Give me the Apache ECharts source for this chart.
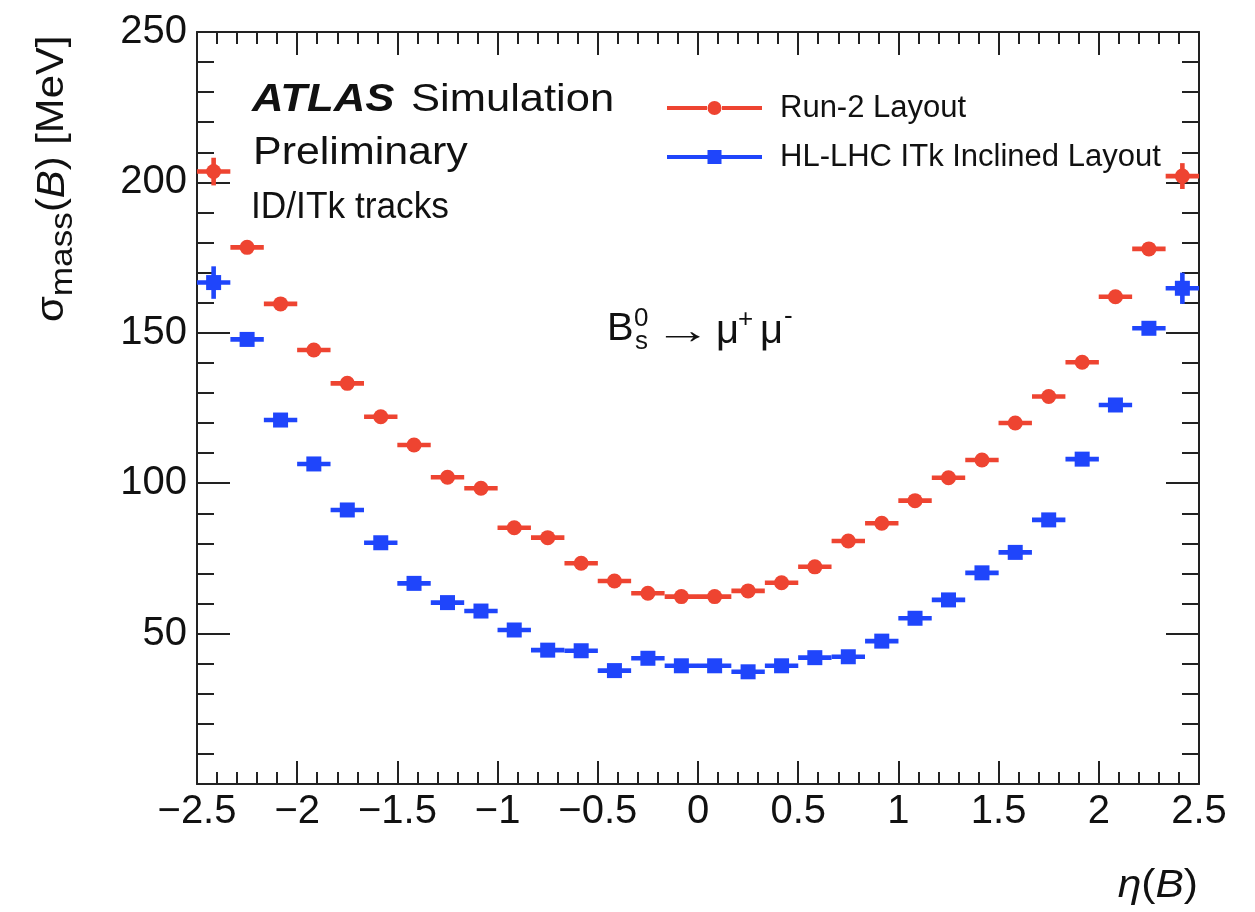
<!DOCTYPE html>
<html>
<head>
<meta charset="utf-8">
<title>B mass resolution vs eta</title>
<script src="https://cdn.jsdelivr.net/npm/echarts@6/dist/echarts.min.js"></script>
<style>
  html, body { margin: 0; padding: 0; background: #ffffff; }
  #chart { width: 1255px; height: 912px; }
</style>
</head>
<body>
<div id="chart"></div>
<script>
// Bin centres in eta(B); bins are 1/6 wide between -2.5 and 2.5
const etaCenters = [-2.417, -2.25, -2.083, -1.917, -1.75, -1.583, -1.417, -1.25, -1.083, -0.917,
                    -0.75, -0.583, -0.417, -0.25, -0.083, 0.083, 0.25, 0.417, 0.583, 0.75,
                    0.917, 1.083, 1.25, 1.417, 1.583, 1.75, 1.917, 2.083, 2.25, 2.417];
const binHalfWidth = 1 / 12;

// Mass resolution [MeV], Run-2 layout
const run2Sigma = [203.6, 178.4, 159.6, 144.3, 133.2, 122.1, 112.7, 102.0, 98.3, 85.2,
                   81.9, 73.4, 67.5, 63.4, 62.3, 62.3, 64.2, 66.9, 72.2, 80.8,
                   86.7, 94.2, 101.8, 107.7, 120.0, 128.8, 140.2, 162.0, 177.9, 202.1];
const run2Err = [4.6, 1.6, 1.3, 1.1, 1.0, 1.0, 1.0, 1.0, 1.0, 1.0,
                 1.0, 1.0, 1.0, 1.0, 1.0, 1.0, 1.0, 1.0, 1.0, 1.0,
                 1.0, 1.0, 1.0, 1.0, 1.0, 1.0, 1.0, 1.3, 1.6, 4.3];

// Mass resolution [MeV], HL-LHC ITk inclined layout
const itkSigma = [166.7, 147.8, 121.0, 106.4, 91.1, 80.2, 66.7, 60.3, 57.5, 51.2,
                  44.5, 44.3, 37.7, 41.8, 39.3, 39.3, 37.3, 39.3, 42.0, 42.3,
                  47.5, 55.1, 61.2, 70.2, 77.0, 87.8, 108.0, 126.0, 151.5, 164.8];
const itkErr = [5.4, 2.0, 1.4, 1.1, 1.0, 1.0, 1.0, 1.0, 1.0, 1.0,
                1.0, 1.0, 1.0, 1.0, 1.0, 1.0, 1.0, 1.0, 1.0, 1.0,
                1.0, 1.0, 1.0, 1.0, 1.0, 1.0, 1.0, 1.4, 2.0, 5.2];

const seriesNames = ['Run-2 Layout', 'HL-LHC ITk Inclined Layout'];

const RED = '#ee4431';
const BLUE = '#1f45fb';
const FONT = '"Liberation Sans", Arial, Helvetica, sans-serif';
const INK = '#111111';

function toRows(values, errors) {
  return etaCenters.map((x, i) => [x, values[i], errors[i]]);
}

// Draws a histogram-style point: bin-width bar, vertical error bar and marker
function binRenderer(marker, color) {
  return function (params, api) {
    const x = api.value(0), y = api.value(1), e = api.value(2);
    const c = api.coord([x, y]);
    const xl = api.coord([x - binHalfWidth, y])[0];
    const xr = api.coord([x + binHalfWidth, y])[0];
    const yt = api.coord([x, y + e])[1];
    const yb = api.coord([x, y - e])[1];
    const t = 4.6;
    const children = [
      { type: 'rect', shape: { x: xl, y: c[1] - t / 2, width: xr - xl, height: t }, style: { fill: color } },
      { type: 'rect', shape: { x: c[0] - t / 2, y: yt, width: t, height: yb - yt }, style: { fill: color } }
    ];
    if (marker === 'circle') {
      children.push({ type: 'circle', shape: { cx: c[0], cy: c[1], r: 7.5 }, style: { fill: color } });
    } else {
      children.push({ type: 'rect', shape: { x: c[0] - 7.5, y: c[1] - 7.5, width: 15, height: 15 }, style: { fill: color } });
    }
    return { type: 'group', children: children };
  };
}

const circleIcon = 'path://M0,6 L40,6 L40,10 L0,10 Z M55,6 L95,6 L95,10 L55,10 Z M40.5,8 A7,7 0 1 1 54.5,8 A7,7 0 1 1 40.5,8 Z M0,1 L0,1 M0,15 L0,15';
const squareIcon = 'path://M0,6 L40.5,6 L40.5,10 L0,10 Z M54.5,6 L95,6 L95,10 L54.5,10 Z M40.5,1 L54.5,1 L54.5,15 L40.5,15 Z';

const axisLineStyle = { color: '#222222', width: 2 };

function txt(text, x, y, size, opts) {
  opts = opts || {};
  return {
    type: 'text', x: x, y: y, scaleX: opts.scaleX || 1, rotation: opts.rotation || 0, silent: true,
    style: {
      text: text, fill: INK, fontFamily: FONT, fontSize: size,
      fontWeight: opts.weight || 'normal', fontStyle: opts.style || 'normal',
      align: opts.align || 'left', textAlign: opts.align || 'left',
      verticalAlign: 'middle', textVerticalAlign: 'middle',
      rich: opts.rich
    }
  };
}

const chart = echarts.init(document.getElementById('chart'), null, { renderer: 'canvas' });

chart.setOption({
  backgroundColor: '#ffffff',
  animation: false,
  grid: { left: 197, right: 56, top: 32, bottom: 128, containLabel: false },
  xAxis: [{
    type: 'value', min: -2.5, max: 2.5, interval: 0.5, position: 'bottom',
    axisLine: { show: true, onZero: false, lineStyle: axisLineStyle },
    axisTick: { show: true, inside: true, length: 23, lineStyle: axisLineStyle },
    minorTick: { show: true, splitNumber: 5, length: 12, lineStyle: axisLineStyle },
    splitLine: { show: false },
    axisLabel: {
      show: true, margin: 8, fontSize: 40, fontFamily: FONT, color: INK,
      showMinLabel: true, showMaxLabel: true,
      formatter: v => String(v).replace('-', '\u2212')
    }
  }, {
    type: 'value', min: -2.5, max: 2.5, interval: 0.5, position: 'top',
    axisLine: { show: true, onZero: false, lineStyle: axisLineStyle },
    axisTick: { show: true, inside: true, length: 23, lineStyle: axisLineStyle },
    minorTick: { show: true, splitNumber: 5, length: 12, lineStyle: axisLineStyle },
    splitLine: { show: false },
    axisLabel: { show: false }
  }],
  yAxis: [{
    type: 'value', min: 0, max: 250, interval: 50, position: 'left',
    axisLine: { show: true, onZero: false, lineStyle: axisLineStyle },
    axisTick: { show: true, inside: true, length: 33, lineStyle: axisLineStyle },
    minorTick: { show: true, splitNumber: 5, length: 17, lineStyle: axisLineStyle },
    splitLine: { show: false },
    axisLabel: {
      show: true, margin: 10, fontSize: 40, fontFamily: FONT, color: INK,
      showMaxLabel: true,
      formatter: v => (v === 0 ? '' : String(v))
    }
  }, {
    type: 'value', min: 0, max: 250, interval: 50, position: 'right',
    axisLine: { show: true, onZero: false, lineStyle: axisLineStyle },
    axisTick: { show: true, inside: true, length: 33, lineStyle: axisLineStyle },
    minorTick: { show: true, splitNumber: 5, length: 17, lineStyle: axisLineStyle },
    splitLine: { show: false },
    axisLabel: { show: false }
  }],
  legend: {
    orient: 'vertical', left: 662, top: 86,
    itemWidth: 95, itemHeight: 16, itemGap: 15,
    selectedMode: false,
    textStyle: { fontSize: 31, fontFamily: FONT, color: INK, padding: [0, 0, 0, 13], lineHeight: 34 },
    data: [
      { name: seriesNames[0], icon: circleIcon },
      { name: seriesNames[1], icon: squareIcon }
    ]
  },
  series: [{
    name: seriesNames[0], type: 'custom', xAxisIndex: 0, yAxisIndex: 0,
    itemStyle: { color: RED },
    renderItem: binRenderer('circle', RED),
    data: toRows(run2Sigma, run2Err),
    z: 3
  }, {
    name: seriesNames[1], type: 'custom', xAxisIndex: 0, yAxisIndex: 0,
    itemStyle: { color: BLUE },
    renderItem: binRenderer('square', BLUE),
    data: toRows(itkSigma, itkErr),
    z: 3
  }],
  graphic: {
    elements: [
      // Experiment label
      txt('ATLAS', 252, 101, 38, { weight: 'bold', style: 'italic', scaleX: 1.15 }),
      txt('Simulation', 411, 101, 38, { scaleX: 1.145 }),
      txt('Preliminary', 253, 154, 38, { scaleX: 1.13 }),
      txt('ID/ITk tracks', 251, 208, 36, { scaleX: 0.98 }),
      // Decay channel
      txt('B', 607, 330, 38, { scaleX: 1.05 }),
      txt('0', 634, 319, 26),
      txt('s', 635, 342, 26),
      txt('\u2192', 654, 333, 38, { scaleX: 1.5 }),
      txt('\u03bc', 716, 332, 40),
      txt('+', 738, 320, 26),
      txt('\u03bc', 760, 332, 40),
      txt('-', 784, 317, 26),
      // Axis titles
      txt('{g|\u03c3}{sub|mass}{n|(}{it|B}{n|) [MeV]}', 53, 322, 38, {
        rotation: Math.PI / 2, scaleX: 1.1,
        rich: {
          g: { fontSize: 38, fontFamily: FONT, fill: INK },
          sub: { fontSize: 32, fontFamily: FONT, fill: INK, padding: [20, 0, 0, 0] },
          n: { fontSize: 38, fontFamily: FONT, fill: INK },
          it: { fontSize: 38, fontFamily: FONT, fill: INK, fontStyle: 'italic' }
        }
      }),
      txt('{it|\u03b7}{n|(}{it|B}{n|)}', 1198, 886, 38, {
        align: 'right', scaleX: 1.12,
        rich: {
          n: { fontSize: 38, fontFamily: FONT, fill: INK },
          it: { fontSize: 38, fontFamily: FONT, fill: INK, fontStyle: 'italic' }
        }
      })
    ]
  }
});
</script>
</body>
</html>
